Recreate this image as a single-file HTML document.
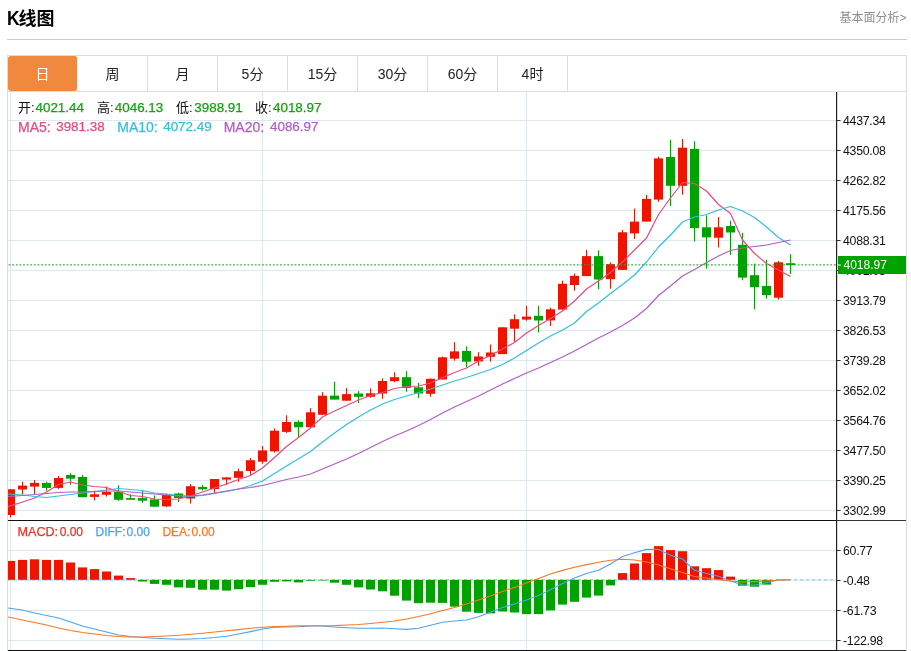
<!DOCTYPE html>
<html lang="zh-CN">
<head>
<meta charset="utf-8">
<title>K线图</title>
<style>
html,body{margin:0;padding:0;background:#fff;}
body{width:911px;height:651px;position:relative;overflow:hidden;font-family:"Liberation Sans","Noto Sans CJK SC",sans-serif;color:#111;}
.title{position:absolute;left:7px;top:7px;font-size:18px;font-weight:bold;line-height:24px;color:#000;letter-spacing:0;}
.title .k{font-size:19.3px;line-height:18px;display:inline-block;transform:scaleX(.9);transform-origin:0 50%;margin-right:-2.4px;}
.more{position:absolute;right:4.5px;top:9px;font-size:12px;line-height:18px;color:#8f8f8f;}
.hr{position:absolute;left:7px;top:39px;width:900px;height:1px;background:#ccc;}
.box{position:absolute;left:7px;top:55px;width:898px;height:620px;border:1px solid #ddd;}
.tabs{position:absolute;left:8px;top:56px;width:898px;height:35px;border-bottom:1px solid #ddd;display:flex;}
.tab{box-sizing:border-box;width:70px;height:35px;border-right:1px solid #ddd;text-align:center;font-size:14px;line-height:37px;color:#222;}
.tab.on{background:#f0883e;color:#fff;border-right:1px solid #fff;border-radius:3px;}
.chart{position:absolute;left:0;top:0;}
.info{position:absolute;left:18px;font-size:13px;line-height:16px;white-space:nowrap;}
.info span{position:absolute;top:0;}
.info .n,.info.m span{-webkit-text-stroke:0.25px currentColor;}
.g{color:#10a410;}
.n{font-size:13.4px;}
</style>
</head>
<body>
<div class="title"><span class="k">K</span>线图</div>
<div class="more">基本面分析&gt;</div>
<div class="hr"></div>
<div class="box"></div>
<div class="tabs"><div class="tab on">日</div><div class="tab">周</div><div class="tab">月</div><div class="tab">5分</div><div class="tab">15分</div><div class="tab">30分</div><div class="tab">60分</div><div class="tab">4时</div></div>
<svg class="chart" width="911" height="651" viewBox="0 0 911 651"><defs><clipPath id="cp"><rect x="8" y="92" width="829" height="559"/></clipPath></defs><rect x="8" y="120" width="828" height="1" fill="#dde8f1"/><rect x="8" y="150" width="828" height="1" fill="#dde8f1"/><rect x="8" y="180" width="828" height="1" fill="#dde8f1"/><rect x="8" y="210" width="828" height="1" fill="#dde8f1"/><rect x="8" y="240" width="828" height="1" fill="#dde8f1"/><rect x="8" y="270" width="828" height="1" fill="#dde8f1"/><rect x="8" y="300" width="828" height="1" fill="#dde8f1"/><rect x="8" y="330" width="828" height="1" fill="#dde8f1"/><rect x="8" y="360" width="828" height="1" fill="#dde8f1"/><rect x="8" y="390" width="828" height="1" fill="#dde8f1"/><rect x="8" y="420" width="828" height="1" fill="#dde8f1"/><rect x="8" y="450" width="828" height="1" fill="#dde8f1"/><rect x="8" y="480" width="828" height="1" fill="#dde8f1"/><rect x="8" y="510" width="828" height="1" fill="#dde8f1"/><rect x="8" y="550" width="828" height="1" fill="#dde8f1"/><rect x="8" y="580" width="828" height="1" fill="#dde8f1"/><rect x="8" y="610" width="828" height="1" fill="#dde8f1"/><rect x="8" y="640" width="828" height="1" fill="#dde8f1"/><rect x="10" y="92" width="1" height="559" fill="#dde8f1"/><rect x="262" y="92" width="1" height="559" fill="#dde8f1"/><rect x="526" y="92" width="1" height="559" fill="#dde8f1"/><g clip-path="url(#cp)"><rect x="10" y="489.3" width="1" height="28.2" fill="#ee1400"/><rect x="6" y="489.3" width="9" height="25.7" fill="#ee1400"/><rect x="22" y="481.7" width="1" height="12.8" fill="#ee1400"/><rect x="18" y="485.6" width="9" height="3.9" fill="#ee1400"/><rect x="34" y="480" width="1" height="13.9" fill="#ee1400"/><rect x="30" y="482.9" width="9" height="3.7" fill="#ee1400"/><rect x="46" y="481.7" width="1" height="9.1" fill="#00a200"/><rect x="42" y="482.9" width="9" height="5" fill="#00a200"/><rect x="58" y="476" width="1" height="12.9" fill="#ee1400"/><rect x="54" y="478" width="9" height="9.9" fill="#ee1400"/><rect x="70" y="473.2" width="1" height="11.4" fill="#00a200"/><rect x="66" y="475" width="9" height="3.7" fill="#00a200"/><rect x="82" y="474.8" width="1" height="22.4" fill="#00a200"/><rect x="78" y="477" width="9" height="20.2" fill="#00a200"/><rect x="94" y="490.6" width="1" height="9.9" fill="#ee1400"/><rect x="90" y="494.3" width="9" height="2.6" fill="#ee1400"/><rect x="106" y="486.6" width="1" height="9.9" fill="#ee1400"/><rect x="102" y="491.9" width="9" height="2.9" fill="#ee1400"/><rect x="118" y="485.3" width="1" height="15.5" fill="#00a200"/><rect x="114" y="491.9" width="9" height="7.9" fill="#00a200"/><rect x="130" y="494.1" width="1" height="5.7" fill="#00a200"/><rect x="126" y="498.1" width="9" height="1.7" fill="#00a200"/><rect x="142" y="490.8" width="1" height="11.9" fill="#00a200"/><rect x="138" y="498.1" width="9" height="2.6" fill="#00a200"/><rect x="154" y="495.5" width="1" height="11.2" fill="#00a200"/><rect x="150" y="499.4" width="9" height="7.3" fill="#00a200"/><rect x="166" y="494.1" width="1" height="12.9" fill="#ee1400"/><rect x="162" y="494.8" width="9" height="11.6" fill="#ee1400"/><rect x="178" y="492.8" width="1" height="9.2" fill="#00a200"/><rect x="174" y="493.5" width="9" height="4.6" fill="#00a200"/><rect x="190" y="484" width="1" height="19.6" fill="#ee1400"/><rect x="186" y="486.2" width="9" height="12.3" fill="#ee1400"/><rect x="202" y="484.9" width="1" height="5.5" fill="#00a200"/><rect x="198" y="486.9" width="9" height="2.4" fill="#00a200"/><rect x="214" y="479" width="1" height="13.8" fill="#ee1400"/><rect x="210" y="479" width="9" height="10.1" fill="#ee1400"/><rect x="226" y="477" width="1" height="7.9" fill="#ee1400"/><rect x="222" y="477.4" width="9" height="2.2" fill="#ee1400"/><rect x="238" y="468.7" width="1" height="13.1" fill="#ee1400"/><rect x="234" y="471.2" width="9" height="6.6" fill="#ee1400"/><rect x="250" y="458" width="1" height="16.8" fill="#ee1400"/><rect x="246" y="460.2" width="9" height="10.8" fill="#ee1400"/><rect x="262" y="446.1" width="1" height="17.6" fill="#ee1400"/><rect x="258" y="450.4" width="9" height="11.3" fill="#ee1400"/><rect x="274" y="428.4" width="1" height="24.1" fill="#ee1400"/><rect x="270" y="430.7" width="9" height="20.7" fill="#ee1400"/><rect x="286" y="415.3" width="1" height="17.7" fill="#ee1400"/><rect x="282" y="422" width="9" height="9.9" fill="#ee1400"/><rect x="298" y="420.3" width="1" height="17.3" fill="#00a200"/><rect x="294" y="421.8" width="9" height="5.5" fill="#00a200"/><rect x="310" y="408.1" width="1" height="19.2" fill="#ee1400"/><rect x="306" y="412.3" width="9" height="15" fill="#ee1400"/><rect x="322" y="392.2" width="1" height="22.6" fill="#ee1400"/><rect x="318" y="395.7" width="9" height="19.1" fill="#ee1400"/><rect x="334" y="381.8" width="1" height="17.8" fill="#00a200"/><rect x="330" y="395.6" width="9" height="4" fill="#00a200"/><rect x="346" y="388.1" width="1" height="12.6" fill="#ee1400"/><rect x="342" y="394.1" width="9" height="6.6" fill="#ee1400"/><rect x="358" y="391.2" width="1" height="11.8" fill="#00a200"/><rect x="354" y="393.5" width="9" height="3.3" fill="#00a200"/><rect x="370" y="388.4" width="1" height="9.2" fill="#ee1400"/><rect x="366" y="393.3" width="9" height="3.5" fill="#ee1400"/><rect x="382" y="378.4" width="1" height="20.3" fill="#ee1400"/><rect x="378" y="381" width="9" height="12.5" fill="#ee1400"/><rect x="394" y="372.3" width="1" height="9.9" fill="#ee1400"/><rect x="390" y="377.2" width="9" height="4" fill="#ee1400"/><rect x="406" y="371.2" width="1" height="20.6" fill="#00a200"/><rect x="402" y="377.2" width="9" height="10.7" fill="#00a200"/><rect x="418" y="383" width="1" height="15.1" fill="#00a200"/><rect x="414" y="387.3" width="9" height="6.2" fill="#00a200"/><rect x="430" y="378.4" width="1" height="18.4" fill="#ee1400"/><rect x="426" y="378.8" width="9" height="15" fill="#ee1400"/><rect x="442" y="356.5" width="1" height="23" fill="#ee1400"/><rect x="438" y="357.3" width="9" height="22.2" fill="#ee1400"/><rect x="454" y="342.2" width="1" height="18.5" fill="#ee1400"/><rect x="450" y="351.4" width="9" height="7.3" fill="#ee1400"/><rect x="466" y="346.4" width="1" height="20.9" fill="#00a200"/><rect x="462" y="351" width="9" height="10.7" fill="#00a200"/><rect x="478" y="352.2" width="1" height="13.5" fill="#ee1400"/><rect x="474" y="356.5" width="9" height="4.9" fill="#ee1400"/><rect x="490" y="344.5" width="1" height="17.2" fill="#ee1400"/><rect x="486" y="352.5" width="9" height="4.3" fill="#ee1400"/><rect x="502" y="327.3" width="1" height="26.8" fill="#ee1400"/><rect x="498" y="327.3" width="9" height="26.8" fill="#ee1400"/><rect x="514" y="314.3" width="1" height="27.5" fill="#ee1400"/><rect x="510" y="319.2" width="9" height="9.5" fill="#ee1400"/><rect x="526" y="305.8" width="1" height="14.9" fill="#ee1400"/><rect x="522" y="316.6" width="9" height="3" fill="#ee1400"/><rect x="538" y="305.8" width="1" height="26.7" fill="#00a200"/><rect x="534" y="315.8" width="9" height="4.7" fill="#00a200"/><rect x="550" y="307.6" width="1" height="18.4" fill="#ee1400"/><rect x="546" y="309.3" width="9" height="11.1" fill="#ee1400"/><rect x="562" y="280.7" width="1" height="28.9" fill="#ee1400"/><rect x="558" y="283.8" width="9" height="25.8" fill="#ee1400"/><rect x="574" y="273.5" width="1" height="17.2" fill="#ee1400"/><rect x="570" y="275.8" width="9" height="9.2" fill="#ee1400"/><rect x="586" y="250" width="1" height="26.1" fill="#ee1400"/><rect x="582" y="256.1" width="9" height="20" fill="#ee1400"/><rect x="598" y="250.3" width="1" height="38.8" fill="#00a200"/><rect x="594" y="256.1" width="9" height="23.4" fill="#00a200"/><rect x="610" y="262.3" width="1" height="26.4" fill="#ee1400"/><rect x="606" y="264.1" width="9" height="15.1" fill="#ee1400"/><rect x="622" y="230" width="1" height="39.9" fill="#ee1400"/><rect x="618" y="232.3" width="9" height="37.6" fill="#ee1400"/><rect x="634" y="208.6" width="1" height="30.4" fill="#ee1400"/><rect x="630" y="221.6" width="9" height="11.8" fill="#ee1400"/><rect x="646" y="195" width="1" height="26.6" fill="#ee1400"/><rect x="642" y="198.9" width="9" height="22.7" fill="#ee1400"/><rect x="658" y="156.7" width="1" height="45.1" fill="#ee1400"/><rect x="654" y="158.4" width="9" height="41.2" fill="#ee1400"/><rect x="670" y="139.8" width="1" height="66.2" fill="#00a200"/><rect x="666" y="157" width="9" height="28.8" fill="#00a200"/><rect x="682" y="139" width="1" height="55.7" fill="#ee1400"/><rect x="678" y="147.7" width="9" height="38.1" fill="#ee1400"/><rect x="694" y="141.3" width="1" height="100.2" fill="#00a200"/><rect x="690" y="148.9" width="9" height="79.2" fill="#00a200"/><rect x="706" y="215.3" width="1" height="53.4" fill="#00a200"/><rect x="702" y="227.3" width="9" height="10.1" fill="#00a200"/><rect x="718" y="217.1" width="1" height="30.4" fill="#ee1400"/><rect x="714" y="227.3" width="9" height="10.4" fill="#ee1400"/><rect x="730" y="220.8" width="1" height="34.1" fill="#00a200"/><rect x="726" y="226" width="9" height="6.5" fill="#00a200"/><rect x="742" y="232.8" width="1" height="47.4" fill="#00a200"/><rect x="738" y="244.8" width="9" height="32.8" fill="#00a200"/><rect x="754" y="263.6" width="1" height="45.7" fill="#00a200"/><rect x="750" y="275.2" width="9" height="12" fill="#00a200"/><rect x="766" y="259.9" width="1" height="38.7" fill="#00a200"/><rect x="762" y="285.9" width="9" height="9.2" fill="#00a200"/><rect x="778" y="261" width="1" height="38.5" fill="#ee1400"/><rect x="774" y="262.3" width="9" height="35.4" fill="#ee1400"/><rect x="790" y="254.2" width="1" height="19.8" fill="#00a200"/><rect x="786" y="263.2" width="9" height="1.8" fill="#00a200"/><path d="M8,506.6L22.5,502L34.5,498L46.5,492L58.5,484.5L70.5,482L82.5,485L94.5,486.5L106.5,487.5L118.5,491.5L130.5,495.5L142.5,496.5L154.5,499L166.5,499.5L178.5,499L190.5,496L202.5,492L214.5,488L226.5,484L238.5,479.5L250.5,475.5L262.5,468L274.5,457.5L286.5,446.5L298.5,437.5L310.5,428L322.5,417L334.5,411L346.5,405.5L358.5,400L370.5,395.5L382.5,392.5L394.5,388.5L406.5,386.5L418.5,386L430.5,383L442.5,377.7L454.5,372.5L466.5,368L478.5,361L490.5,355.5L502.5,349L514.5,342.5L526.5,333L538.5,325.5L550.5,318.5L562.5,311L574.5,301L586.5,289L598.5,281L610.5,272.5L622.5,262L634.5,250L646.5,238L658.5,214.5L670.5,198L682.5,182.5L694.5,183.5L706.5,191L718.5,204.5L730.5,213.5L742.5,240L754.5,253.5L766.5,263.5L778.5,270L790.5,276.5" fill="none" stroke="#ea4a7e" stroke-width="1.2" stroke-linejoin="round"/><path d="M8,494L22.5,495L34.5,496.5L46.5,497.5L58.5,496L70.5,494.5L82.5,493L94.5,491.5L106.5,490L118.5,488.5L130.5,489.5L142.5,490.5L154.5,493L166.5,494L178.5,495.5L190.5,496.5L202.5,495.5L214.5,493.5L226.5,491.5L238.5,489L250.5,485.5L262.5,481L274.5,473.5L286.5,466L298.5,458.7L310.5,451.5L322.5,442L334.5,433L346.5,424.5L358.5,417L370.5,410L382.5,404L394.5,399.5L406.5,396L418.5,392.5L430.5,389L442.5,385L454.5,381L466.5,377.5L478.5,373.5L490.5,369.5L502.5,364.5L514.5,358L526.5,350.5L538.5,343L550.5,336L562.5,330L574.5,323L586.5,311.5L598.5,303L610.5,293.5L622.5,284.5L634.5,275L646.5,262L658.5,247L670.5,235L682.5,222L694.5,217L706.5,214.5L718.5,210L730.5,206.5L742.5,211L754.5,217.5L766.5,227L778.5,237.5L790.5,245" fill="none" stroke="#33bfdd" stroke-width="1.2" stroke-linejoin="round"/><path d="M8,496.5L22.5,495.5L34.5,494.5L46.5,493.5L58.5,492.5L70.5,492L82.5,492L94.5,491.5L106.5,491L118.5,491L130.5,492L142.5,493L154.5,494L166.5,495L178.5,496L190.5,496L202.5,495L214.5,493L226.5,491L238.5,489L250.5,487.5L262.5,485.5L274.5,482.5L286.5,479.5L298.5,477L310.5,474L322.5,469L334.5,464L346.5,459L358.5,453.5L370.5,447.5L382.5,441.5L394.5,436L406.5,431L418.5,425.5L430.5,419.5L442.5,413L454.5,407L466.5,401.5L478.5,396L490.5,390L502.5,384L514.5,378.5L526.5,373L538.5,368L550.5,362.5L562.5,357L574.5,351L586.5,344.5L598.5,338L610.5,332L622.5,325.5L634.5,318L646.5,308.5L658.5,295.5L670.5,286L682.5,276L694.5,269.5L706.5,262.5L718.5,256L730.5,250.5L742.5,248L754.5,246.5L766.5,245L778.5,242.5L790.5,240" fill="none" stroke="#b45cc8" stroke-width="1.2" stroke-linejoin="round"/><line x1="8.6" y1="264.75" x2="836" y2="264.75" stroke="#1fa91f" stroke-width="1.25" stroke-dasharray="1.8 1.82" opacity="0.9"/><line x1="8" y1="579.8" x2="836" y2="579.8" stroke="#7cc8ec" stroke-width="1" stroke-dasharray="3 3"/><rect x="6" y="560.9" width="9" height="18.9" fill="#ee1400"/><rect x="18" y="559.9" width="9" height="19.9" fill="#ee1400"/><rect x="30" y="559.3" width="9" height="20.5" fill="#ee1400"/><rect x="42" y="559.9" width="9" height="19.9" fill="#ee1400"/><rect x="54" y="559.9" width="9" height="19.9" fill="#ee1400"/><rect x="66" y="562.5" width="9" height="17.3" fill="#ee1400"/><rect x="78" y="567.4" width="9" height="12.4" fill="#ee1400"/><rect x="90" y="569.1" width="9" height="10.7" fill="#ee1400"/><rect x="102" y="571.5" width="9" height="8.3" fill="#ee1400"/><rect x="114" y="575.6" width="9" height="4.2" fill="#ee1400"/><rect x="126" y="578.1" width="9" height="1.7" fill="#ee1400"/><rect x="138" y="579.8" width="9" height="1.7" fill="#00a200"/><rect x="150" y="579.8" width="9" height="4.1" fill="#00a200"/><rect x="162" y="579.8" width="9" height="5" fill="#00a200"/><rect x="174" y="579.8" width="9" height="7.6" fill="#00a200"/><rect x="186" y="579.8" width="9" height="8" fill="#00a200"/><rect x="198" y="579.8" width="9" height="9.9" fill="#00a200"/><rect x="210" y="579.8" width="9" height="9.9" fill="#00a200"/><rect x="222" y="579.8" width="9" height="10.8" fill="#00a200"/><rect x="234" y="579.8" width="9" height="9.4" fill="#00a200"/><rect x="246" y="579.8" width="9" height="7.3" fill="#00a200"/><rect x="258" y="579.8" width="9" height="5" fill="#00a200"/><rect x="270" y="579.8" width="9" height="2" fill="#00a200"/><rect x="282" y="579.8" width="9" height="1.6" fill="#00a200"/><rect x="294" y="579.8" width="9" height="2.6" fill="#00a200"/><rect x="306" y="579.8" width="9" height="0.9" fill="#00a200"/><rect x="318" y="579.8" width="9" height="0.6" fill="#00a200"/><rect x="330" y="579.8" width="9" height="2.9" fill="#00a200"/><rect x="342" y="579.8" width="9" height="5" fill="#00a200"/><rect x="354" y="579.8" width="9" height="7.6" fill="#00a200"/><rect x="366" y="579.8" width="9" height="9.7" fill="#00a200"/><rect x="378" y="579.8" width="9" height="11.5" fill="#00a200"/><rect x="390" y="579.8" width="9" height="15.9" fill="#00a200"/><rect x="402" y="579.8" width="9" height="20.8" fill="#00a200"/><rect x="414" y="579.8" width="9" height="23.4" fill="#00a200"/><rect x="426" y="579.8" width="9" height="22.9" fill="#00a200"/><rect x="438" y="579.8" width="9" height="23.1" fill="#00a200"/><rect x="450" y="579.8" width="9" height="26.9" fill="#00a200"/><rect x="462" y="579.8" width="9" height="31.9" fill="#00a200"/><rect x="474" y="579.8" width="9" height="33.1" fill="#00a200"/><rect x="486" y="579.8" width="9" height="33.6" fill="#00a200"/><rect x="498" y="579.8" width="9" height="31.7" fill="#00a200"/><rect x="510" y="579.8" width="9" height="32.7" fill="#00a200"/><rect x="522" y="579.8" width="9" height="34.3" fill="#00a200"/><rect x="534" y="579.8" width="9" height="34.3" fill="#00a200"/><rect x="546" y="579.8" width="9" height="30.6" fill="#00a200"/><rect x="558" y="579.8" width="9" height="24.8" fill="#00a200"/><rect x="570" y="579.8" width="9" height="22" fill="#00a200"/><rect x="582" y="579.8" width="9" height="17.8" fill="#00a200"/><rect x="594" y="579.8" width="9" height="15.8" fill="#00a200"/><rect x="606" y="579.8" width="9" height="5.6" fill="#00a200"/><rect x="618" y="573.1" width="9" height="6.7" fill="#ee1400"/><rect x="630" y="563.5" width="9" height="16.3" fill="#ee1400"/><rect x="642" y="553.1" width="9" height="26.7" fill="#ee1400"/><rect x="654" y="546.1" width="9" height="33.7" fill="#ee1400"/><rect x="666" y="550.1" width="9" height="29.7" fill="#ee1400"/><rect x="678" y="551.2" width="9" height="28.6" fill="#ee1400"/><rect x="690" y="566.3" width="9" height="13.5" fill="#ee1400"/><rect x="702" y="568.2" width="9" height="11.6" fill="#ee1400"/><rect x="714" y="570.1" width="9" height="9.7" fill="#ee1400"/><rect x="726" y="576.6" width="9" height="3.2" fill="#ee1400"/><rect x="738" y="579.8" width="9" height="5.9" fill="#00a200"/><rect x="750" y="579.8" width="9" height="6.9" fill="#00a200"/><rect x="762" y="579.8" width="9" height="4.8" fill="#00a200"/><path d="M8,608L22.5,610L34.5,613L46.5,615.5L58.5,618L70.5,622L82.5,626L94.5,629L106.5,632L118.5,635L130.5,636.5L142.5,637.5L154.5,638.3L166.5,638.7L178.5,639.3L190.5,639L202.5,638.5L214.5,637.5L226.5,636.2L238.5,634L250.5,631.6L262.5,629L274.5,627.2L286.5,627L298.5,626.7L310.5,626L322.5,626L334.5,627L346.5,627.7L358.5,628.3L370.5,628.3L382.5,628L394.5,628.8L406.5,629.4L418.5,628.3L430.5,625.3L442.5,622.3L454.5,621L466.5,620L478.5,616.8L490.5,612.3L502.5,607.5L514.5,604L526.5,600L538.5,595.6L550.5,589.8L562.5,583.4L574.5,578L586.5,573.5L598.5,570.3L610.5,564L622.5,556.5L634.5,552.7L646.5,549.4L658.5,549.4L670.5,555.2L682.5,559L694.5,570.3L706.5,573.5L718.5,576.3L730.5,581L742.5,584.8L754.5,585.2L766.5,582.8L778.5,580L790.5,579.8" fill="none" stroke="#4aa5f0" stroke-width="1.1" stroke-linejoin="round"/><path d="M8,617L22.5,620L34.5,622.5L46.5,625L58.5,628L70.5,630.5L82.5,632.5L94.5,634L106.5,635.5L118.5,636.5L130.5,637L142.5,637L154.5,636.5L166.5,636L178.5,635.3L190.5,634.2L202.5,633.2L214.5,632L226.5,630.8L238.5,629.6L250.5,628.3L262.5,627.2L274.5,626.6L286.5,626.2L298.5,625.9L310.5,625.8L322.5,625.8L334.5,625.6L346.5,625L358.5,624.5L370.5,623.5L382.5,622.3L394.5,621L406.5,619L418.5,616.5L430.5,613.7L442.5,610.5L454.5,607.5L466.5,604L478.5,600L490.5,596L502.5,591.6L514.5,587.4L526.5,583L538.5,578.6L550.5,574L562.5,570.4L574.5,567.2L586.5,564.6L598.5,562.3L610.5,560.3L622.5,559.2L634.5,560L646.5,562L658.5,565L670.5,568.7L682.5,572.5L694.5,576.5L706.5,578L718.5,579.7L730.5,581L742.5,582L754.5,581.6L766.5,581L778.5,580L790.5,579.8" fill="none" stroke="#ff7722" stroke-width="1.1" stroke-linejoin="round"/></g><rect x="8" y="520" width="829" height="1" fill="#111"/><rect x="8" y="650" width="829" height="1" fill="#111"/><rect x="837" y="520" width="69" height="1" fill="#333"/><rect x="837" y="650" width="69" height="1" fill="#333"/><rect x="836" y="92" width="1.2" height="559" fill="#222"/><g font-family="'Liberation Sans', sans-serif" font-size="12.3" letter-spacing="-0.27" fill="#111"><rect x="837" y="120" width="3.6" height="1" fill="#333"/><text x="843" y="124.7">4437.34</text><rect x="837" y="150" width="3.6" height="1" fill="#333"/><text x="843" y="154.7">4350.08</text><rect x="837" y="180" width="3.6" height="1" fill="#333"/><text x="843" y="184.7">4262.82</text><rect x="837" y="210" width="3.6" height="1" fill="#333"/><text x="843" y="214.7">4175.56</text><rect x="837" y="240" width="3.6" height="1" fill="#333"/><text x="843" y="244.7">4088.31</text><rect x="837" y="270" width="3.6" height="1" fill="#333"/><text x="843" y="274.7">4001.05</text><rect x="837" y="300" width="3.6" height="1" fill="#333"/><text x="843" y="304.7">3913.79</text><rect x="837" y="330" width="3.6" height="1" fill="#333"/><text x="843" y="334.7">3826.53</text><rect x="837" y="360" width="3.6" height="1" fill="#333"/><text x="843" y="364.7">3739.28</text><rect x="837" y="390" width="3.6" height="1" fill="#333"/><text x="843" y="394.7">3652.02</text><rect x="837" y="420" width="3.6" height="1" fill="#333"/><text x="843" y="424.7">3564.76</text><rect x="837" y="450" width="3.6" height="1" fill="#333"/><text x="843" y="454.7">3477.50</text><rect x="837" y="480" width="3.6" height="1" fill="#333"/><text x="843" y="484.7">3390.25</text><rect x="837" y="510" width="3.6" height="1" fill="#333"/><text x="843" y="514.7">3302.99</text><rect x="837" y="550" width="3.6" height="1" fill="#333"/><text x="843" y="554.7">60.77</text><rect x="837" y="580" width="3.6" height="1" fill="#333"/><text x="843" y="584.7">-0.48</text><rect x="837" y="610" width="3.6" height="1" fill="#333"/><text x="843" y="614.7">-61.73</text><rect x="837" y="640" width="3.6" height="1" fill="#333"/><text x="843" y="644.7">-122.98</text></g><rect x="838" y="256" width="68" height="18" fill="#00a200"/><rect x="838" y="264.5" width="3" height="1" fill="#fff"/><text x="843.5" y="269.1" font-family="'Liberation Sans', sans-serif" font-size="12" fill="#fff">4018.97</text></svg>
<div class="info" style="top:100px"><span style="left:0">开:</span><span class="g n" style="left:17.5px">4021.44</span><span style="left:79px">高:</span><span class="g n" style="left:96.8px">4046.13</span><span style="left:158px">低:</span><span class="g n" style="left:176.3px">3988.91</span><span style="left:237px">收:</span><span class="g n" style="left:255px">4018.97</span></div>
<div class="info" style="top:119px"><span class="n" style="left:0px;color:#ea4a7e;font-size:14px">MA5:</span><span class="n" style="left:38.2px;color:#ea4a7e">3981.38</span><span class="n" style="left:99.3px;color:#33bfdd;font-size:14px">MA10:</span><span class="n" style="left:145.2px;color:#33bfdd">4072.49</span><span class="n" style="left:205.7px;color:#b45cc8;font-size:14px">MA20:</span><span class="n" style="left:252px;color:#b45cc8">4086.97</span></div>
<div class="info m" style="top:524px;font-size:12px"><span style="left:-0.5px;color:#ee3322;font-size:12.6px">MACD:</span><span style="left:41.7px;color:#ee3322">0.00</span><span style="left:77.5px;color:#4aa5f0">DIFF:</span><span style="left:108.6px;color:#4aa5f0">0.00</span><span style="left:144.4px;color:#ff7722">DEA:</span><span style="left:173.4px;color:#ff7722">0.00</span></div>
</body>
</html>
